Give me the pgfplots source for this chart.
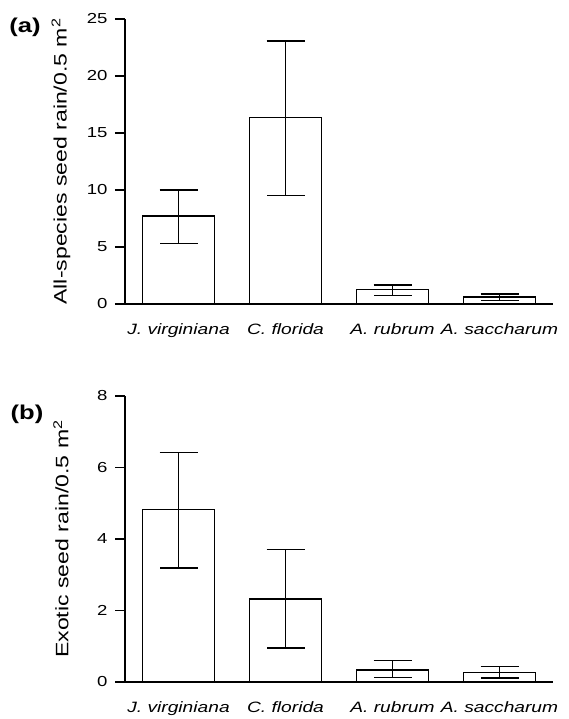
\documentclass[border=0pt]{standalone}
\usepackage{fontspec}
\setmainfont{Liberation Sans}[FakeStretch=1.28]
\usepackage{pgfplots}
\pgfplotsset{compat=1.18}

% shared look of both panels
\pgfplotsset{seedbar/.style={
    scale only axis, width=428pt,
    xmin=-0.5, xmax=3.5, ymin=0,
    axis x line=bottom, axis y line=left,
    axis line style={-, line width=1.6pt},
    xtick={0,1,2,3},
    xticklabels={J. virginiana, C. florida, A. rubrum, A. saccharum},
    xtick style={draw=none},
    ytick style={line width=1.6pt, black},
    tick align=outside, major tick length=10pt,
    /pgf/number format/assume math mode=true,
    yticklabel style={font=\fontsize{14.5}{16}\selectfont, xshift=-4pt},
    xticklabel style={font=\fontsize{15}{17}\selectfont\itshape, yshift=-6pt},
    ylabel style={font=\fontsize{18}{20}\selectfont, at={(axis description cs:0,0.5)},
      anchor=center, yshift=64pt},
    ybar, bar width=72pt,
    clip=false,
  },
  seedplot/.style={
    fill=white, draw=black, line width=1.6pt,
    error bars/.cd, y dir=both, y explicit,
    error bar style={line width=1.2pt},
    error mark options={rotate=90, mark size=19pt, line width=1.2pt},
  },
}

\begin{document}
\begin{tikzpicture}
\useasboundingbox (0,0) rectangle (569pt,719pt);

\begin{axis}[seedbar, at={(125pt,415pt)}, anchor=south west, height=285pt,
    ymax=25, ytick={0,5,10,15,20,25},
    ylabel={All-species seed rain/0.5 m\textsuperscript{2}}]
  \addplot[seedplot] coordinates {
    (0,7.72) += (0,2.28) -= (0,2.40)
    (1,16.35) += (0,6.72) -= (0,6.85)
    (2,1.28) += (0,0.38) -= (0,0.50)
    (3,0.60) += (0,0.27) -= (0,0.32)
  };
\end{axis}

\begin{axis}[seedbar, at={(125pt,37pt)}, anchor=south west, height=286pt,
    ymax=8, ytick={0,2,4,6,8},
    ylabel={Exotic seed rain/0.5 m\textsuperscript{2}}]
  \addplot[seedplot] coordinates {
    (0,4.82) += (0,1.60) -= (0,1.63)
    (1,2.33) += (0,1.37) -= (0,1.38)
    (2,0.34) += (0,0.26) -= (0,0.21)
    (3,0.27) += (0,0.17) -= (0,0.16)
  };
\end{axis}

\node[font=\fontsize{20}{24}\selectfont\bfseries] at (25pt,692pt) {(a)};
\node[font=\fontsize{20}{24}\selectfont\bfseries] at (27pt,305pt) {(b)};
\end{tikzpicture}
\end{document}
